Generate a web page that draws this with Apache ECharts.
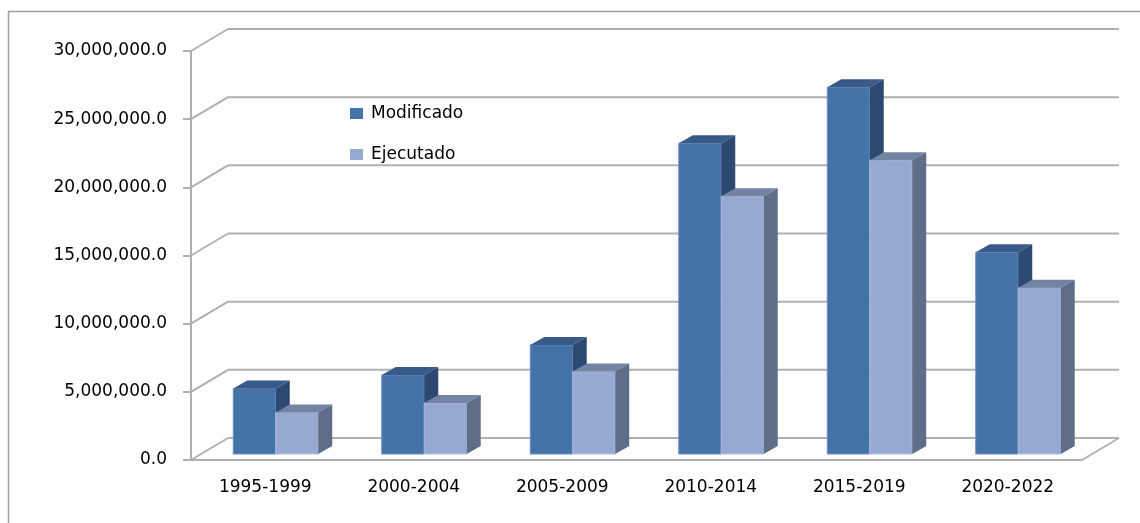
<!DOCTYPE html>
<html>
<head>
<meta charset="utf-8">
<script src="https://cdn.jsdelivr.net/npm/echarts@6/dist/echarts.min.js"></script>
<style>
  html, body { margin: 0; padding: 0; background: #fff; }
  #chart { width: 1140px; height: 523px; }
</style>
</head>
<body>
<div id="chart"></div>
<script>
// 数据
const periods = ['1995-1999', '2000-2004', '2005-2009', '2010-2014', '2015-2019', '2020-2022']
const modificado = [4800000, 5800000, 8000000, 22800000, 26900000, 14800000]
const ejecutado = [3050000, 3750000, 6050000, 18900000, 21550000, 12200000]
const yTicks = [0, 5000000, 10000000, 15000000, 20000000, 25000000, 30000000]

// 3D 外观参数（像素）
const WALL_DX = 37, WALL_DY = -22   // 背墙相对前平面的偏移
const PLANE_DX = 10.5, PLANE_DY = -6 // 柱子所在平面
const BAR_DX = 14, BAR_DY = -8       // 柱子厚度
const BAR_RATIO = 0.286
const LINE = '#b0b0b0'
const FONT = 'DejaVu Sans'

const colorsMod = {front: '#4572a7', top: '#385a89', side: '#2c4a71', edge: '#6a8fc0'}
const colorsEje = {front: '#95a9d1', top: '#7383a3', side: '#5e6d88', edge: '#aebfe0'}

const fmt = v => v.toLocaleString('en-US', {minimumFractionDigits: 1, maximumFractionDigits: 1})

// 背墙网格线 + 斜线
const renderWall = (params, api) => {
  const cs = params.coordSys
  const y = api.coord([0, api.value(1)])[1]
  const left = cs.x
  const right = cs.x + cs.width
  const style = {stroke: LINE, lineWidth: 2, fill: null}
  const children = [
    {type: 'line', shape: {x1: left, y1: y, x2: left + WALL_DX, y2: y + WALL_DY}, style},
    {type: 'line', shape: {x1: left + WALL_DX, y1: y + WALL_DY, x2: right + WALL_DX, y2: y + WALL_DY}, style}
  ]
  if (api.value(1) === 0) {
    children.push({type: 'line', shape: {x1: right, y1: y, x2: right + WALL_DX, y2: y + WALL_DY}, style})
  }
  return {type: 'group', children}
}

// 立体柱子
const barRenderer = (slot, c) => (params, api) => {
  const idx = api.value(0)
  const base = api.coord([idx, 0])
  const top = api.coord([idx, api.value(1)])
  const w = api.size([1, 0])[0] * BAR_RATIO
  const x0 = base[0] - w + slot * w + PLANE_DX
  const x1 = x0 + w
  const y0 = base[1] + PLANE_DY
  const y1 = top[1] + PLANE_DY
  return {
    type: 'group',
    children: [
      {type: 'rect', shape: {x: x0, y: y1, width: w, height: y0 - y1}, style: {fill: c.front, stroke: c.edge, lineWidth: 1}},
      {type: 'polygon', shape: {points: [[x0, y1], [x0 + BAR_DX, y1 + BAR_DY], [x1 + BAR_DX, y1 + BAR_DY], [x1, y1]]}, style: {fill: c.top}},
      {type: 'polygon', shape: {points: [[x1, y1], [x1 + BAR_DX, y1 + BAR_DY], [x1 + BAR_DX, y0 + BAR_DY], [x1, y0]]}, style: {fill: c.side}}
    ]
  }
}

const chart = echarts.init(document.getElementById('chart'))
chart.setOption({
  animation: false,
  graphic: [{
    type: 'rect',
    shape: {x: 8.5, y: 11.5, width: 1200, height: 600},
    style: {fill: null, stroke: '#a0a0a0', lineWidth: 1.5},
    silent: true
  }],
  legend: {
    orient: 'vertical',
    left: 345,
    top: 100,
    itemWidth: 13,
    itemHeight: 11,
    itemGap: 24,
    icon: 'rect',
    textStyle: {fontSize: 17, color: '#000', fontFamily: FONT, padding: [0, 0, 0, 3]},
    data: ['Modificado', 'Ejecutado']
  },
  grid: {left: 191, top: 51, width: 891, height: 409, outerBoundsMode: 'none'},
  xAxis: {
    type: 'category',
    data: periods,
    axisLine: {lineStyle: {color: LINE, width: 2}},
    axisTick: {length: 7, lineStyle: {color: LINE, width: 2}},
    axisLabel: {fontSize: 17, color: '#000', fontFamily: FONT, margin: 19}
  },
  yAxis: {
    type: 'value',
    min: 0,
    max: 30000000,
    interval: 5000000,
    axisLine: {show: true, lineStyle: {color: LINE, width: 2}},
    axisTick: {show: true, length: 8, lineStyle: {color: LINE, width: 2}},
    splitLine: {show: false},
    axisLabel: {fontSize: 17, color: '#000', fontFamily: FONT, margin: 24, formatter: fmt}
  },
  series: [
    {
      type: 'custom',
      name: 'wall',
      z: 1,
      silent: true,
      renderItem: renderWall,
      encode: {x: 0, y: 1},
      data: yTicks.map(v => [0, v])
    },
    {
      type: 'custom',
      name: 'Modificado',
      z: 2,
      itemStyle: {color: colorsMod.front},
      renderItem: barRenderer(0, colorsMod),
      encode: {x: 0, y: 1},
      data: modificado.map((v, i) => [i, v])
    },
    {
      type: 'custom',
      name: 'Ejecutado',
      z: 3,
      itemStyle: {color: colorsEje.front},
      renderItem: barRenderer(1, colorsEje),
      encode: {x: 0, y: 1},
      data: ejecutado.map((v, i) => [i, v])
    }
  ]
})
</script>
</body>
</html>
